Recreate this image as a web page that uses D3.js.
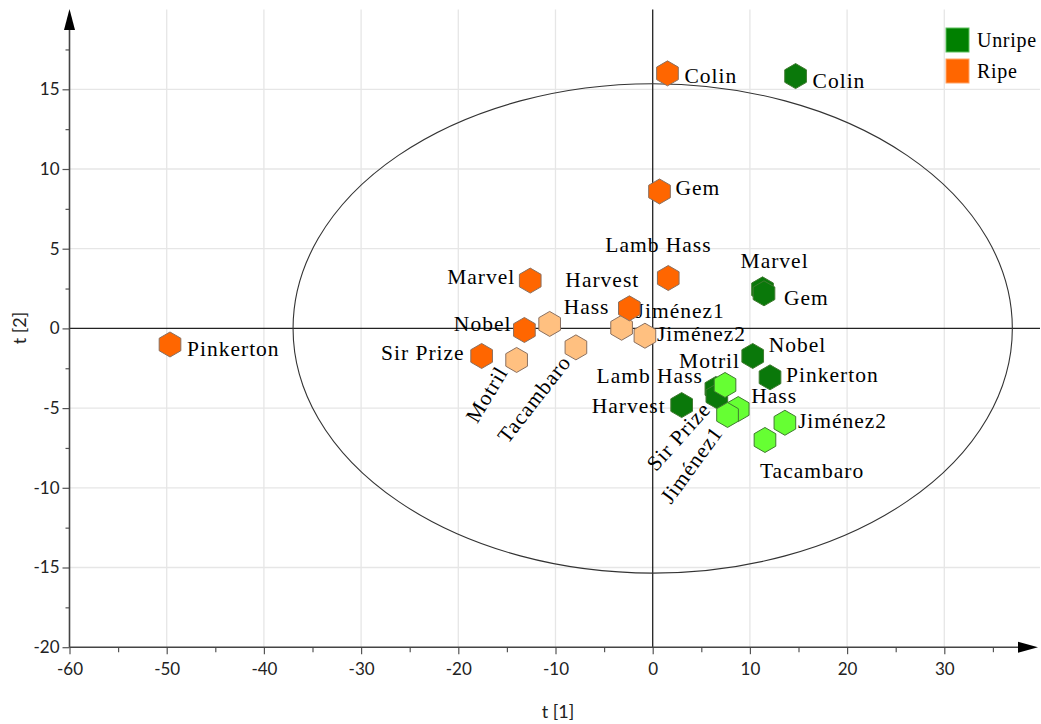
<!DOCTYPE html>
<html>
<head>
<meta charset="utf-8">
<script src="https://cdn.jsdelivr.net/npm/d3@7"></script>
<style>
  html, body { margin: 0; padding: 0; background: #fff; }
  svg { display: block; }
</style>
</head>
<body>
<svg id="chart" width="1041" height="724"></svg>
<script>
// ---------------- data ----------------
const ripeNames   = ["Hass", "Jiménez1", "Jiménez2", "Motril", "Tacambaro",
                     "Colin", "Gem", "Lamb Hass", "Marvel", "Harvest", "Nobel", "Sir Prize", "Pinkerton"];
const ripeT1      = [-10.6, -3.2, -0.8, -14.0, -7.9,
                     1.52, 0.7, 1.6, -12.6, -2.4, -13.2, -17.6, -49.66];
const ripeT2      = [0.28, 0.04, -0.46, -1.98, -1.19,
                     16.0, 8.59, 3.16, 3.0, 1.26, -0.1, -1.73, -1.01];
const ripeShade   = ["light", "light", "light", "light", "light",
                     "dark", "dark", "dark", "dark", "dark", "dark", "dark", "dark"];

const unripeNames = ["Colin", "Marvel", "Gem", "Nobel", "Pinkerton", "Harvest", "Lamb Hass", "Sir Prize",
                     "Motril", "Hass", "Jiménez1", "Jiménez2", "Tacambaro"];
const unripeT1    = [14.7, 11.3, 11.45, 10.29, 12.07, 2.98, 6.5, 6.6,
                     7.44, 8.8, 7.7, 13.6, 11.55];
const unripeT2    = [15.83, 2.45, 2.2, -1.73, -3.07, -4.81, -3.8, -4.25,
                     -3.55, -5.06, -5.43, -5.92, -7.0];
const unripeShade = ["dark", "dark", "dark", "dark", "dark", "dark", "dark", "dark",
                     "light", "light", "light", "light", "light"];

const xTicks = [-60, -50, -40, -30, -20, -10, 0, 10, 20, 30];
const yTicks = [-20, -15, -10, -5, 0, 5, 10, 15];
const xMinor = [-55, -45, -35, -25, -15, -5, 5, 15, 25, 35];
const yMinor = [-17.5, -12.5, -7.5, -2.5, 2.5, 7.5, 12.5, 17.5];
const ellipseT1 = 37;     // semi-axis of confidence ellipse along t[1]
const ellipseT2 = 15.35;  // semi-axis along t[2]
const legendNames = ["Unripe", "Ripe"];

// ---------------- layout (label placement, px: dx, dy, anchor, rotation) ----------------
const ripeLabelLayout = [
  [14, -10, "start", 0],   // Hass
  [14, -10, "start", 0],   // Jiménez1
  [12, 5, "start", 0],     // Jiménez2
  [-8, 12, "end", -59],    // Motril
  [-4, 15, "end", -52],    // Tacambaro
  [17, 10, "start", 0],    // Colin
  [16, 4, "start", 0],     // Gem
  [-63, -26, "start", 0],  // Lamb Hass
  [-15, 3, "end", 0],      // Marvel
  [-64, -21, "start", 0],  // Harvest
  [-13, 1, "end", 0],      // Nobel
  [-17, 4, "end", 0],      // Sir Prize
  [17, 12, "start", 0]     // Pinkerton
];
const unripeLabelLayout = [
  [17, 12, "start", 0],    // Colin
  [-22, -21, "start", 0],  // Marvel
  [20, 12, "start", 0],    // Gem
  [16, -4, "start", 0],    // Nobel
  [16, 5, "start", 0],     // Pinkerton
  [-16, 8, "end", 0],      // Harvest
  [-13, -6, "end", 0],     // Lamb Hass
  [-5, 14, "end", -48],    // Sir Prize
  [15, -17, "end", 0],     // Motril
  [13, -6, "start", 0],    // Hass
  [-4, 18, "end", -54],    // Jiménez1
  [13, 5, "start", 0],     // Jiménez2
  [-5, 38, "start", 0]     // Tacambaro
];

// ---------------- styles ----------------
const colors = {
  ripe:   { dark: "#ff6600", light: "#ffc080", stroke: "#8a7060" },
  unripe: { dark: "#0a780a", light: "#66ff33", stroke: "#3f7a30" }
};
const legendColors = ["#008000", "#ff6600"];
const legendStroke = ["#5cbf5c", "#ffa366"];
const serif = "'Liberation Serif', 'Times New Roman', serif";
const sans = "Lato, 'Open Sans', sans-serif";

// ---------------- chart ----------------
const svg = d3.select("#chart");
const x = d3.scaleLinear().domain([-60, 40]).range([69.5, 1041.5]);
const y = d3.scaleLinear().domain([-20, 20]).range([647.2, 9.6]);
const x0 = x(-60), y0 = y(-20);
const plotRight = 1040, plotTop = y(20);

// grid
const grid = svg.append("g");
grid.selectAll(".vg").data(xTicks.filter(d => d !== -60 && d !== 0)).enter().append("line")
  .attr("x1", d => x(d)).attr("x2", d => x(d)).attr("y1", plotTop).attr("y2", y0)
  .attr("stroke", "#e6e6e6").attr("stroke-width", 1.3);
grid.selectAll(".hg").data(yTicks.filter(d => d !== -20 && d !== 0)).enter().append("line")
  .attr("x1", x0).attr("x2", plotRight).attr("y1", d => y(d)).attr("y2", d => y(d))
  .attr("stroke", "#e6e6e6").attr("stroke-width", 1.3);

// zero lines
svg.append("line").attr("x1", x(0)).attr("x2", x(0)).attr("y1", plotTop).attr("y2", y0)
  .attr("stroke", "#222").attr("stroke-width", 1.3);
svg.append("line").attr("x1", x0).attr("x2", plotRight).attr("y1", y(0)).attr("y2", y(0))
  .attr("stroke", "#222").attr("stroke-width", 1.3);

// ellipse
svg.append("ellipse")
  .attr("cx", x(0)).attr("cy", y(0))
  .attr("rx", x(ellipseT1) - x(0)).attr("ry", y(0) - y(ellipseT2))
  .attr("fill", "none").attr("stroke", "#333").attr("stroke-width", 1.1);

// axes
const fmt = d => String(d);
const xAxis = svg.append("g").attr("transform", `translate(0,${y0})`)
  .call(d3.axisBottom(x).tickValues(xTicks).tickSize(7).tickPadding(9).tickFormat(fmt));
const xAxisMinor = svg.append("g").attr("transform", `translate(0,${y0})`)
  .call(d3.axisBottom(x).tickValues(xMinor).tickSize(5).tickFormat(""));
const yAxis = svg.append("g").attr("transform", `translate(${x0},0)`)
  .call(d3.axisLeft(y).tickValues(yTicks).tickSize(7).tickPadding(3).tickFormat(fmt));
const yAxisMinor = svg.append("g").attr("transform", `translate(${x0},0)`)
  .call(d3.axisLeft(y).tickValues(yMinor).tickSize(4).tickFormat(""));
[xAxis, xAxisMinor, yAxis, yAxisMinor].forEach(g => {
  g.select(".domain").remove();
  g.selectAll(".tick line").attr("stroke", "#555").attr("stroke-width", 1.2);
  g.selectAll(".tick text").attr("fill", "#222").style("font-family", sans).style("font-size", "17px");
});

// axis lines with arrows
svg.append("line").attr("x1", x0).attr("x2", 1020).attr("y1", y0).attr("y2", y0)
  .attr("stroke", "#444").attr("stroke-width", 1.6);
svg.append("line").attr("x1", x0).attr("x2", x0).attr("y1", y0).attr("y2", 28)
  .attr("stroke", "#444").attr("stroke-width", 1.6);
svg.append("path").attr("d", `M1018,${y0 - 5.5}L1038,${y0}L1018,${y0 + 5.5}Z`).attr("fill", "#000");
svg.append("path").attr("d", `M${x0 - 5.5},30L${x0},9L${x0 + 5.5},30Z`).attr("fill", "#000");

// axis titles
svg.append("text").attr("x", 558).attr("y", 718).attr("text-anchor", "middle")
  .style("font-family", sans).style("font-size", "18px").attr("fill", "#222").text("t [1]");
svg.append("text").attr("transform", "translate(26,328) rotate(-90)").attr("text-anchor", "middle")
  .style("font-family", sans).style("font-size", "18px").attr("fill", "#222").text("t [2]");

// build series
function rows(names, t1, t2, shade, layout) {
  return names.map((n, i) => ({ name: n, t1: t1[i], t2: t2[i], shade: shade[i], lay: layout[i] }));
}
const ripe = rows(ripeNames, ripeT1, ripeT2, ripeShade, ripeLabelLayout);
const unripe = rows(unripeNames, unripeT1, unripeT2, unripeShade, unripeLabelLayout);

const hexR = 12.5;
const hexPath = (() => {
  const pts = d3.range(6).map(k => {
    const a = Math.PI / 3 * k - Math.PI / 2;
    return [hexR * Math.cos(a), hexR * Math.sin(a)];
  });
  return "M" + pts.map(p => p.join(",")).join("L") + "Z";
})();

// labels
const labels = svg.append("g");
[ripe, unripe].forEach(series => {
  labels.selectAll(null).data(series).enter().append("text")
    .attr("transform", d => `translate(${x(d.t1) + d.lay[0]},${y(d.t2) + d.lay[1]}) rotate(${d.lay[3]})`)
    .attr("text-anchor", d => d.lay[2])
    .style("font-family", serif).style("font-size", "21.5px").style("letter-spacing", "1px")
    .attr("fill", "#000").text(d => d.name);
});

// points
function drawPoints(series, key, order) {
  const c = colors[key];
  const sorted = order.flatMap(s => series.filter(d => d.shade === s));
  svg.append("g").selectAll("path").data(sorted).enter().append("path")
    .attr("d", hexPath)
    .attr("transform", d => `translate(${x(d.t1)},${y(d.t2)})`)
    .attr("fill", d => c[d.shade])
    .attr("stroke", c.stroke).attr("stroke-width", 1);
}
drawPoints(ripe, "ripe", ["light", "dark"]);
drawPoints(unripe, "unripe", ["dark", "light"]);

// legend
const leg = svg.append("g");
legendNames.forEach((n, i) => {
  leg.append("rect").attr("x", 946).attr("y", 28 + i * 31).attr("width", 23).attr("height", 24)
    .attr("fill", legendColors[i]).attr("stroke", legendStroke[i]).attr("stroke-width", 1);
  leg.append("text").attr("x", 977).attr("y", 47 + i * 30.5)
    .style("font-family", serif).style("font-size", "20px").style("letter-spacing", "0.7px")
    .attr("fill", "#000").text(n);
});
</script>
</body>
</html>
